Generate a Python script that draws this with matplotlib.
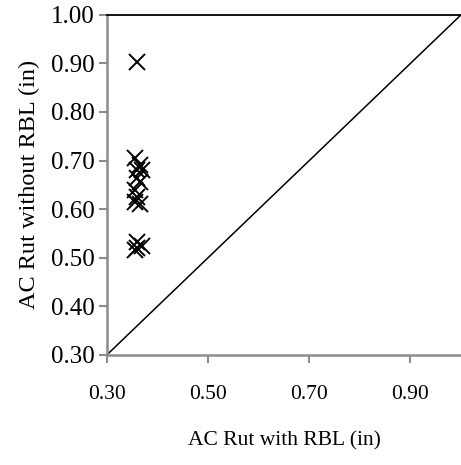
import numpy as np
import matplotlib.pyplot as plt

plt.rcParams['font.family'] = ['Liberation Serif', 'DejaVu Serif']

# AC rut values (in)
rut_with_rbl = [0.360, 0.355, 0.365, 0.360, 0.370, 0.360, 0.365, 0.355,
                0.360, 0.355, 0.365, 0.360, 0.370, 0.360, 0.355]
rut_without_rbl = [0.903, 0.705, 0.690, 0.680, 0.680, 0.665, 0.655, 0.640,
                   0.625, 0.615, 0.610, 0.532, 0.525, 0.520, 0.515]
x_ticks = [0.30, 0.50, 0.70, 0.90]
y_ticks = [0.30, 0.40, 0.50, 0.60, 0.70, 0.80, 0.90, 1.00]
equality = [0.30, 1.00]

fig = plt.figure(figsize=(4.61, 4.65), dpi=100)
ax = fig.add_axes([0.232, 0.237, 0.768, 0.731])

ax.plot(equality, equality, color='black', lw=1.1, clip_on=False, zorder=2)
ax.plot(rut_with_rbl, rut_without_rbl, 'x', color='black', ms=12,
        mew=1.4, zorder=3)

ax.set_xlim(0.30, 1.00)
ax.set_ylim(0.30, 1.00)
ax.set_xticks(x_ticks)
ax.set_yticks(y_ticks)
ax.set_xticklabels(['%.2f' % v for v in x_ticks])
ax.set_yticklabels(['%.2f' % v for v in y_ticks])

gray = '#8c8c8c'
for side in ['left', 'bottom']:
    ax.spines[side].set_color(gray)
    ax.spines[side].set_linewidth(1.8)
ax.spines['top'].set_color('black')
ax.spines['top'].set_linewidth(1.3)
ax.spines['right'].set_visible(False)

ax.tick_params(axis='both', colors=gray, labelcolor='black', length=6,
               width=1.5, direction='out')
ax.tick_params(axis='x', pad=16, labelsize=15.5)
ax.tick_params(axis='y', pad=3, labelsize=18)

ax.set_xlabel('AC Rut with RBL (in)', fontsize=15.5, labelpad=19)
ax.set_ylabel('AC Rut without RBL (in)', fontsize=17.5, labelpad=8)

fig.savefig('out.png', dpi=100)
